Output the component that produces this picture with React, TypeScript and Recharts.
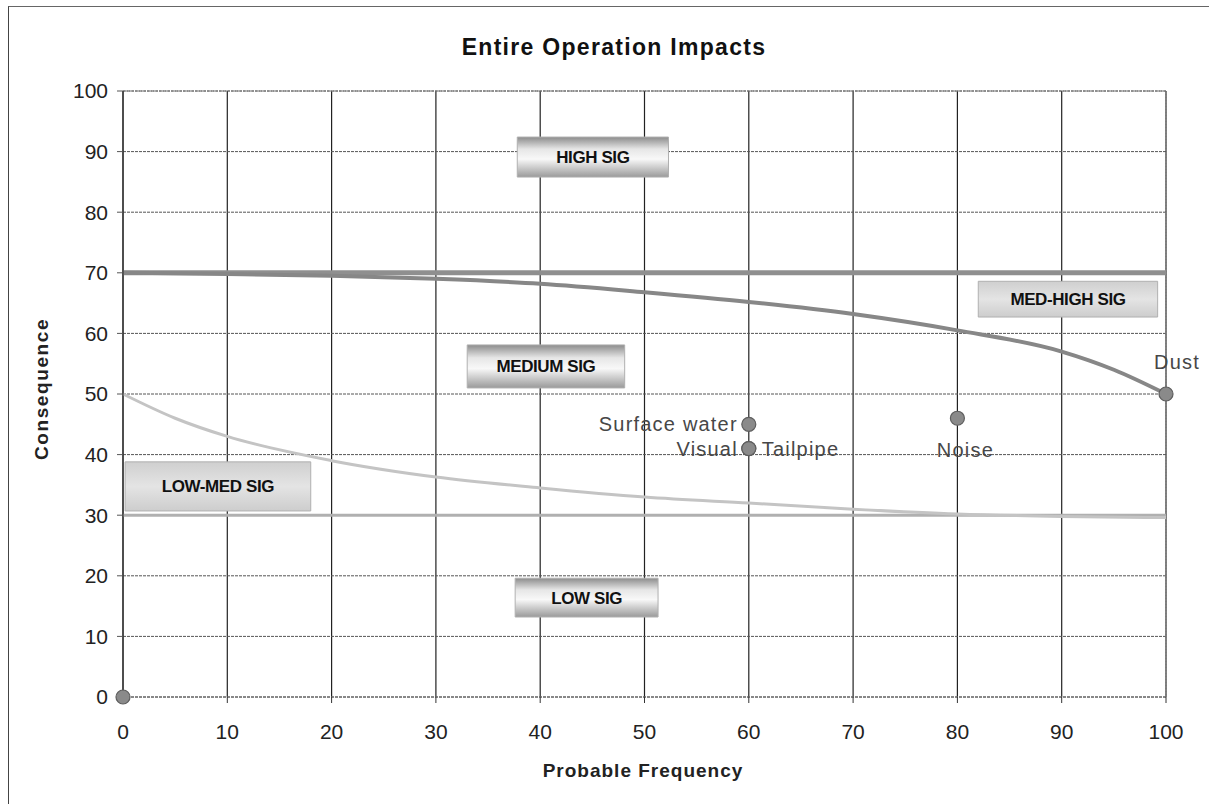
import {
  ComposedChart,
  Line,
  Scatter,
  XAxis,
  YAxis,
  CartesianGrid,
  ReferenceLine,
  ReferenceArea,
} from "recharts";

const W = 1209;
const H = 804;
const FONT = "Arial, 'Liberation Sans', sans-serif";

const xTicks = [0, 10, 20, 30, 40, 50, 60, 70, 80, 90, 100];
const yTicks = [0, 10, 20, 30, 40, 50, 60, 70, 80, 90, 100];

// significance thresholds
const upperThreshold = 70;
const lowerThreshold = 30;

// curved boundary between MEDIUM and MED-HIGH
const highCurveX = [0, 10, 20, 30, 40, 50, 60, 70, 80, 90, 95, 100];
const highCurveY = [70, 69.8, 69.5, 69, 68.2, 66.8, 65.2, 63.2, 60.5, 57, 54, 50];

// curved boundary between LOW-MED and MEDIUM
const lowCurveX = [0, 5, 10, 20, 30, 40, 50, 60, 70, 80, 90, 100];
const lowCurveY = [50, 46, 43, 39, 36.3, 34.5, 33, 32, 31, 30.2, 29.8, 29.6];

// impacts
const impactNames = ["", "Surface water", "Visual", "Tailpipe", "Noise", "Dust"];
const impactFreq = [0, 60, 60, 60, 80, 100];
const impactCons = [0, 45, 41, 41, 46, 50];

// zone boxes
const zoneNames = ["HIGH SIG", "MED-HIGH SIG", "MEDIUM SIG", "LOW-MED SIG", "LOW SIG"];
const zoneX1 = [37.8, 82.0, 33.0, 0.2, 37.6];
const zoneX2 = [52.3, 99.2, 48.1, 18.0, 51.3];
const zoneY1 = [85.8, 62.7, 51.0, 30.7, 13.2];
const zoneY2 = [92.4, 68.6, 58.1, 38.8, 19.6];
const zoneFills = ["url(#gDark)", "url(#gLight)", "url(#gDark)", "url(#gLight)", "url(#gDark)"];

const highCurve = highCurveX.map((x, i) => ({ x, y: highCurveY[i] }));
const lowCurve = lowCurveX.map((x, i) => ({ x, y: lowCurveY[i] }));
const impacts = impactNames.map((name, i) => ({
  name,
  x: impactFreq[i],
  y: impactCons[i],
}));

const LABEL_SIDE: Record<string, string> = {
  "Surface water": "left",
  Visual: "left",
  Tailpipe: "right",
  Noise: "bottom",
  Dust: "top",
};

function ImpactDot(props: any) {
  const { cx, cy, payload } = props;
  const side = LABEL_SIDE[payload.name];
  let label = null;
  const common = {
    fontFamily: FONT,
    fontSize: 20,
    letterSpacing: 1.2,
    fill: "#474747",
  };
  if (side === "left") {
    label = (
      <text x={cx - 11} y={cy + 7} textAnchor="end" {...common}>
        {payload.name}
      </text>
    );
  } else if (side === "right") {
    label = (
      <text x={cx + 13} y={cy + 7} textAnchor="start" {...common}>
        {payload.name}
      </text>
    );
  } else if (side === "bottom") {
    label = (
      <text x={cx + 8} y={cy + 39} textAnchor="middle" {...common}>
        {payload.name}
      </text>
    );
  } else if (side === "top") {
    label = (
      <text x={cx + 11} y={cy - 25} textAnchor="middle" {...common}>
        {payload.name}
      </text>
    );
  }
  return (
    <g>
      <circle cx={cx} cy={cy} r={7} fill="#8a8a8a" stroke="#5e5e5e" strokeWidth={1.2} />
      {label}
    </g>
  );
}

export default function App() {
  return (
    <div
      style={{
        position: "absolute",
        left: 0,
        top: 0,
        width: W,
        height: H,
        overflow: "hidden",
        background: "#fff",
      }}
    >
      {/* frame, right and bottom edges run off the page */}
      <div
        style={{
          position: "absolute",
          left: 8,
          top: 6,
          width: W,
          height: H,
          borderLeft: "1px solid #444",
          borderTop: "1px solid #666",
        }}
      />
      <div style={{ position: "absolute", left: 0, top: 0 }}>
        <ComposedChart
          width={W}
          height={H}
          margin={{ top: 91, right: 43, bottom: 67, left: 73 }}
        >
          <defs>
            <linearGradient id="gDark" x1="0" y1="0" x2="0" y2="1">
              <stop offset="0%" stopColor="#8c8c8c" />
              <stop offset="30%" stopColor="#e6e6e6" />
              <stop offset="55%" stopColor="#f8f8f8" />
              <stop offset="100%" stopColor="#9a9a9a" />
            </linearGradient>
            <linearGradient id="gLight" x1="0" y1="0" x2="0" y2="1">
              <stop offset="0%" stopColor="#cfcfcf" />
              <stop offset="50%" stopColor="#e4e4e4" />
              <stop offset="100%" stopColor="#cdcdcd" />
            </linearGradient>
          </defs>
          <CartesianGrid
            horizontal={false}
            stroke="#222"
            strokeWidth={1.2}
          />
          <CartesianGrid
            vertical={false}
            stroke="#555"
            strokeDasharray="3 1"
          />
          <XAxis
            type="number"
            dataKey="x"
            domain={[0, 100]}
            ticks={xTicks}
            interval={0}
            axisLine={{ stroke: "#666", strokeDasharray: "3 1" }}
            tickLine={{ stroke: "#333" }}
            tickSize={6}
            tickMargin={21}
            height={40}
            tick={{ fontFamily: FONT, fontSize: 21, fill: "#222" }}
          />
          <YAxis
            type="number"
            dataKey="y"
            domain={[0, 100]}
            ticks={yTicks}
            interval={0}
            axisLine={{ stroke: "#222" }}
            tickLine={{ stroke: "#555" }}
            tickSize={6}
            tickMargin={9}
            width={50}
            tick={{ fontFamily: FONT, fontSize: 21, fill: "#222" }}
          />
          <ReferenceLine x={100} stroke="#888" strokeDasharray="2 1" />
          <ReferenceLine y={100} stroke="#777" strokeDasharray="2 1" />
          {zoneNames.map((name, i) => (
            <ReferenceArea
              key={name}
              x1={zoneX1[i]}
              x2={zoneX2[i]}
              y1={zoneY1[i]}
              y2={zoneY2[i]}
              fill={zoneFills[i]}
              fillOpacity={1}
              stroke="#b0b0b0"
              strokeWidth={1}
              label={{
                value: name,
                position: "center",
                fill: "#111",
                fontFamily: FONT,
                fontSize: 17,
                fontWeight: "bold",
                letterSpacing: -0.4,
              }}
            />
          ))}
          <ReferenceLine y={upperThreshold} stroke="#8f8f8f" strokeWidth={5} />
          <ReferenceLine y={lowerThreshold} stroke="#b0b0b0" strokeWidth={3} />
          <Line
            data={highCurve}
            dataKey="y"
            type="monotone"
            stroke="#878787"
            strokeWidth={4}
            dot={false}
            isAnimationActive={false}
          />
          <Line
            data={lowCurve}
            dataKey="y"
            type="monotone"
            stroke="#c4c4c4"
            strokeWidth={3}
            dot={false}
            isAnimationActive={false}
          />
          <Scatter
            data={impacts}
            dataKey="y"
            shape={ImpactDot}
            isAnimationActive={false}
          />
        </ComposedChart>
      </div>
      <svg
        width={W}
        height={H}
        style={{ position: "absolute", left: 0, top: 0, pointerEvents: "none" }}
      >
        <text
          x={614}
          y={55}
          textAnchor="middle"
          fontFamily={FONT}
          fontSize={23}
          fontWeight="bold"
          letterSpacing={1.3}
          fill="#111"
        >
          Entire Operation Impacts
        </text>
        <text
          x={643}
          y={777}
          textAnchor="middle"
          fontFamily={FONT}
          fontSize={19}
          fontWeight="bold"
          letterSpacing={1}
          fill="#222"
        >
          Probable Frequency
        </text>
        <text
          x={48}
          y={389}
          textAnchor="middle"
          transform="rotate(-90 48 389)"
          fontFamily={FONT}
          fontSize={19}
          fontWeight="bold"
          letterSpacing={1.6}
          fill="#222"
        >
          Consequence
        </text>
      </svg>
    </div>
  );
}
